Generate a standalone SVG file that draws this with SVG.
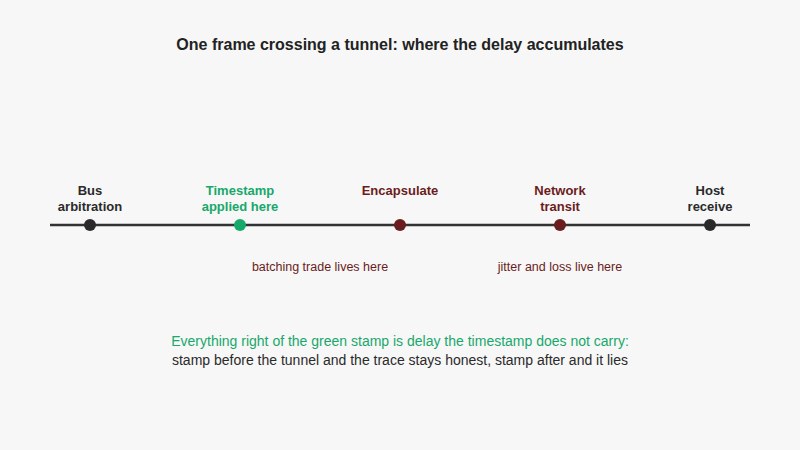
<svg xmlns="http://www.w3.org/2000/svg" width="800" height="450" viewBox="0 0 800 450">
<style>
text{font-family:"Liberation Sans",Arial,sans-serif;text-anchor:middle}
.lbl{font-size:13px;font-weight:bold}
.dk{fill:#2a2a2a}.gr{fill:#17a86b}.rd{fill:#6b1c1c}
.note{font-size:12.5px;fill:#6b1c1c}
.foot{font-size:14px}
</style>
<rect width="800" height="450" fill="#f7f7f7"/>
<text x="400" y="50" style="font-size:16px;font-weight:bold" fill="#222">One frame crossing a tunnel: where the delay accumulates</text>
<g id="connectors"><line x1="50" y1="225" x2="750" y2="225" stroke="#333" stroke-width="2.5"/></g>
<g id="bus"><circle cx="90" cy="225" r="6" class="dk"/><text x="90" y="195" class="lbl dk">Bus</text><text x="90" y="211" class="lbl dk">arbitration</text></g>
<g id="timestamp"><circle cx="240" cy="225" r="6" class="gr"/><text x="240" y="195" class="lbl gr">Timestamp</text><text x="240" y="211" class="lbl gr">applied here</text></g>
<g id="encap"><circle cx="400" cy="225" r="6" class="rd"/><text x="400" y="195" class="lbl rd">Encapsulate</text></g>
<g id="network"><circle cx="560" cy="225" r="6" class="rd"/><text x="560" y="195" class="lbl rd">Network</text><text x="560" y="211" class="lbl rd">transit</text></g>
<g id="host"><circle cx="710" cy="225" r="6" class="dk"/><text x="710" y="195" class="lbl dk">Host</text><text x="710" y="211" class="lbl dk">receive</text></g>
<text x="320" y="271" class="note">batching trade lives here</text>
<text x="560" y="271" class="note">jitter and loss live here</text>
<text x="400" y="346" class="foot gr">Everything right of the green stamp is delay the timestamp does not carry:</text>
<text x="400" y="365" class="foot dk">stamp before the tunnel and the trace stays honest, stamp after and it lies</text>
</svg>
